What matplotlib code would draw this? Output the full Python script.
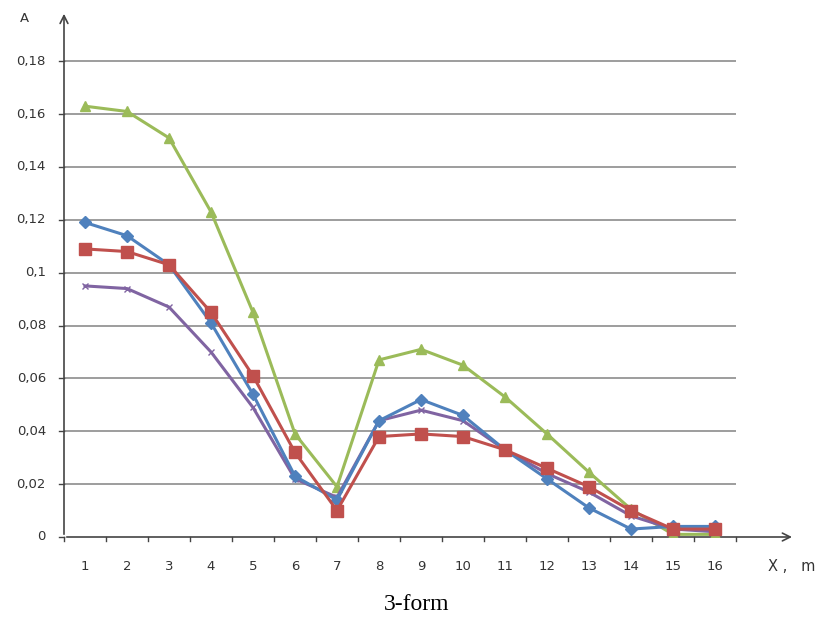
import numpy as np
import matplotlib.pyplot as plt

# Data
x = list(range(1, 17))
blue = [0.119, 0.114, 0.103, 0.081, 0.054, 0.023, 0.014, 0.044, 0.052, 0.046, 0.033, 0.022, 0.011, 0.003, 0.004, 0.004]
red = [0.109, 0.108, 0.103, 0.085, 0.061, 0.032, 0.010, 0.038, 0.039, 0.038, 0.033, 0.026, 0.019, 0.010, 0.003, 0.003]
green = [0.163, 0.161, 0.151, 0.123, 0.085, 0.039, 0.019, 0.067, 0.071, 0.065, 0.053, 0.039, 0.0245, 0.0105, 0.001, 0.001]
purple = [0.095, 0.094, 0.087, 0.070, 0.049, 0.022, 0.015, 0.044, 0.048, 0.044, 0.033, 0.024, 0.017, 0.008, 0.003, 0.002]

y_ticks = [0, 0.02, 0.04, 0.06, 0.08, 0.1, 0.12, 0.14, 0.16, 0.18]
y_labels = ['0', '0,02', '0,04', '0,06', '0,08', '0,1', '0,12', '0,14', '0,16', '0,18']

fig = plt.figure(figsize=(8.26, 6.18), dpi=100)
W, H = 826, 618
# axes: x from 64 px to 800 px, y from 537 px up to 15 px
ax = fig.add_axes([64 / W, (H - 537) / H, (800 - 64) / W, (537 - 15) / H])
ax.set_xlim(0.5, 0.5 + (800 - 64) / 42)
ax.set_ylim(0, 0.1975)
for s in ax.spines.values():
    s.set_visible(False)
ax.set_xticks([])
ax.set_yticks([])

# gridlines
ax.hlines(y_ticks[1:], 0.5, 16.5, color='#8c8c8c', lw=1.2, zorder=1)

# axes with arrows
axcol = '#444444'
ax.annotate('', xy=(0.5, 0.199), xytext=(0.5, 0), annotation_clip=False,
            arrowprops=dict(arrowstyle='->', color=axcol, lw=1.2, mutation_scale=14))
ax.annotate('', xy=(17.9, 0), xytext=(0.5, 0), annotation_clip=False,
            arrowprops=dict(arrowstyle='->', color=axcol, lw=1.2, mutation_scale=14))

# tick marks
for t in y_ticks:
    ax.plot([0.38, 0.5], [t, t], color=axcol, lw=1.0, clip_on=False)
for i in range(17):
    ax.plot([0.5 + i, 0.5 + i], [0, -0.0015], color=axcol, lw=1.0, clip_on=False)

# tick labels
for t, lab in zip(y_ticks, y_labels):
    ax.text(0.07, t, lab, ha='right', va='center', fontsize=9.5, color='#333333')
for xi in x:
    ax.text(xi, -0.0113, str(xi), ha='center', va='center', fontsize=9.5, color='#333333')

ax.text(-0.43, 0.196, 'A', ha='center', va='center', fontsize=9.5, color='#333333')
ax.text(17.83, -0.0113, 'X ,   m', ha='center', va='center', fontsize=10.5, color='#333333')

# series
ax.plot(x, green, color='#9BBB59', lw=2.2, marker='^', ms=7, zorder=3)
ax.plot(x, purple, color='#8064A2', lw=2.2, marker='x', ms=5, mew=1, zorder=3)
ax.plot(x, blue, color='#4F81BD', lw=2.2, marker='D', ms=6, zorder=4)
ax.plot(x, red, color='#C0504D', lw=2.2, marker='s', ms=8, zorder=5)

fig.text(417 / W, 1 - 604 / H, '3-form', ha='center', va='center', fontsize=17,
         family='Liberation Serif')

plt.savefig('out.png', dpi=100)
